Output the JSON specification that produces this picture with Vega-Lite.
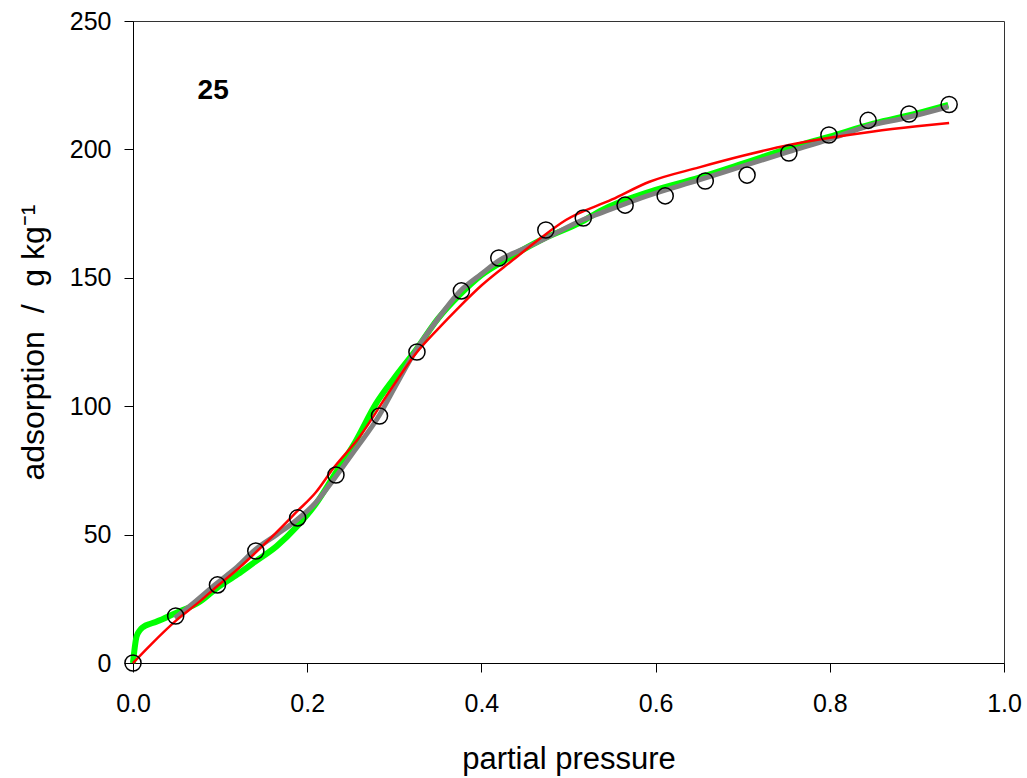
{
  "$schema": "https://vega.github.io/schema/vega-lite/v6.json",
  "width": 871,
  "height": 642,
  "autosize": {"type": "none"},
  "padding": {"left": 133, "top": 21, "right": 23, "bottom": 115},
  "background": "white",
  "config": {
    "view": {"stroke": "#333", "strokeWidth": 1},
    "font": "Liberation Sans",
    "axis": {
      "grid": false,
      "domainColor": "black",
      "domainWidth": 1,
      "tickColor": "black",
      "tickSize": 9,
      "tickWidth": 1,
      "labelFlush": false,
      "labelOverlap": false,
      "labelFont": "Liberation Sans",
      "labelFontSize": 25,
      "labelColor": "black",
      "titleFont": "Liberation Sans",
      "titleFontSize": 31,
      "titleFontWeight": "normal",
      "titleColor": "black"
    }
  },
  "layer": [
    {
      "data": {"values": [
        {"p": 0, "a": 0}, {"p": 0.002, "a": 6}, {"p": 0.004, "a": 10.2}, {"p": 0.008, "a": 12.8},
        {"p": 0.012, "a": 14.1}, {"p": 0.02, "a": 15.3}, {"p": 0.027, "a": 16.1}, {"p": 0.048, "a": 19.3},
        {"p": 0.077, "a": 23.9}, {"p": 0.096, "a": 29.1}, {"p": 0.12, "a": 34.5}, {"p": 0.14, "a": 39.4},
        {"p": 0.165, "a": 45.5}, {"p": 0.188, "a": 53.1}, {"p": 0.21, "a": 62}, {"p": 0.23, "a": 72.6},
        {"p": 0.255, "a": 86}, {"p": 0.279, "a": 101}, {"p": 0.3, "a": 111}, {"p": 0.325, "a": 122},
        {"p": 0.35, "a": 134}, {"p": 0.375, "a": 143.3}, {"p": 0.4, "a": 151}, {"p": 0.428, "a": 157},
        {"p": 0.47, "a": 165}, {"p": 0.516, "a": 172}, {"p": 0.536, "a": 176}, {"p": 0.593, "a": 183.5},
        {"p": 0.65, "a": 189}, {"p": 0.7, "a": 194.5}, {"p": 0.753, "a": 200.4}, {"p": 0.8, "a": 205},
        {"p": 0.85, "a": 210}, {"p": 0.9, "a": 214}, {"p": 0.936, "a": 217.3}
      ]},
      "mark": {"type": "line", "color": "#00ff00", "strokeWidth": 6, "interpolate": "monotone"},
      "encoding": {
        "x": {"field": "p", "type": "quantitative", "scale": {"domain": [0, 1], "nice": false},
              "axis": {"title": "partial pressure", "values": [0, 0.2, 0.4, 0.6, 0.8, 1.0], "format": ".1f",
                       "labelPadding": 19, "titleBaseline": "alphabetic", "titleY": 105}},
        "y": {"field": "a", "type": "quantitative", "scale": {"domain": [0, 250], "nice": false},
              "axis": {"title": "adsorption\u00a0 /\u00a0 g kg⁻¹", "values": [0, 50, 100, 150, 200, 250],
                       "labelPadding": 13, "titleAngle": 270, "titleAlign": "center", "titleBaseline": "alphabetic",
                       "titleX": -90, "titleY": 321, "titleFontSize": 32}}
      }
    },
    {
      "data": {"values": [
        {"p": 0.048, "a": 17.5}, {"p": 0.07, "a": 23.5}, {"p": 0.096, "a": 31}, {"p": 0.12, "a": 37.5},
        {"p": 0.14, "a": 44}, {"p": 0.165, "a": 50}, {"p": 0.188, "a": 55.7}, {"p": 0.21, "a": 62.5},
        {"p": 0.23, "a": 71.3}, {"p": 0.255, "a": 83}, {"p": 0.283, "a": 96.6}, {"p": 0.3, "a": 107},
        {"p": 0.325, "a": 121.9}, {"p": 0.35, "a": 134}, {"p": 0.375, "a": 144.6}, {"p": 0.4, "a": 151.5},
        {"p": 0.421, "a": 156.9}, {"p": 0.45, "a": 161.5}, {"p": 0.474, "a": 165.4}, {"p": 0.516, "a": 172.5},
        {"p": 0.536, "a": 175.1}, {"p": 0.593, "a": 182.2}, {"p": 0.65, "a": 188.1}, {"p": 0.7, "a": 193.5},
        {"p": 0.753, "a": 199.1}, {"p": 0.8, "a": 204}, {"p": 0.841, "a": 208.8}, {"p": 0.89, "a": 212.5},
        {"p": 0.936, "a": 216.6}
      ]},
      "mark": {"type": "line", "color": "#808080", "strokeWidth": 5, "interpolate": "monotone"},
      "encoding": {
        "x": {"field": "p", "type": "quantitative"},
        "y": {"field": "a", "type": "quantitative"}
      }
    },
    {
      "data": {"values": [
        {"p": 0, "a": 0}, {"p": 0.02, "a": 7}, {"p": 0.05, "a": 16.7}, {"p": 0.075, "a": 23.5},
        {"p": 0.096, "a": 29.7}, {"p": 0.12, "a": 36.5}, {"p": 0.15, "a": 46}, {"p": 0.188, "a": 58.9},
        {"p": 0.21, "a": 66.5}, {"p": 0.23, "a": 75.8}, {"p": 0.26, "a": 88}, {"p": 0.298, "a": 107.6},
        {"p": 0.325, "a": 120.6}, {"p": 0.35, "a": 130}, {"p": 0.375, "a": 138.8}, {"p": 0.4, "a": 147},
        {"p": 0.436, "a": 156.9}, {"p": 0.47, "a": 166}, {"p": 0.497, "a": 172.5}, {"p": 0.55, "a": 180.5},
        {"p": 0.593, "a": 187.4}, {"p": 0.65, "a": 193}, {"p": 0.7, "a": 197.5}, {"p": 0.753, "a": 201.7},
        {"p": 0.8, "a": 204.5}, {"p": 0.85, "a": 207}, {"p": 0.9, "a": 209}, {"p": 0.937, "a": 210.3}
      ]},
      "mark": {"type": "line", "color": "#ff0000", "strokeWidth": 2.5, "interpolate": "monotone"},
      "encoding": {
        "x": {"field": "p", "type": "quantitative"},
        "y": {"field": "a", "type": "quantitative"}
      }
    },
    {
      "data": {"values": [
        {"p": 0, "a": 0}, {"p": 0.049, "a": 18.3}, {"p": 0.097, "a": 30.4}, {"p": 0.141, "a": 43.6},
        {"p": 0.189, "a": 56.5}, {"p": 0.233, "a": 73.2}, {"p": 0.283, "a": 96.2}, {"p": 0.326, "a": 121.1},
        {"p": 0.377, "a": 144.9}, {"p": 0.42, "a": 157.7}, {"p": 0.474, "a": 168.6}, {"p": 0.517, "a": 173.3},
        {"p": 0.565, "a": 178.3}, {"p": 0.611, "a": 181.9}, {"p": 0.657, "a": 187.7}, {"p": 0.705, "a": 190},
        {"p": 0.753, "a": 198.6}, {"p": 0.799, "a": 205.6}, {"p": 0.844, "a": 211.3}, {"p": 0.891, "a": 213.8},
        {"p": 0.937, "a": 217.5}
      ]},
      "mark": {"type": "point", "shape": "circle", "filled": false, "stroke": "black", "strokeWidth": 1.5, "size": 260, "opacity": 1},
      "encoding": {
        "x": {"field": "p", "type": "quantitative"},
        "y": {"field": "a", "type": "quantitative"}
      }
    },
    {
      "data": {"values": [{"p": 0.092, "a": 219.6, "label": "25"}]},
      "mark": {"type": "text", "fontSize": 28, "fontWeight": "bold", "align": "center", "baseline": "alphabetic", "color": "black", "font": "Liberation Sans"},
      "encoding": {
        "x": {"field": "p", "type": "quantitative"},
        "y": {"field": "a", "type": "quantitative"},
        "text": {"field": "label"}
      }
    }
  ]
}
